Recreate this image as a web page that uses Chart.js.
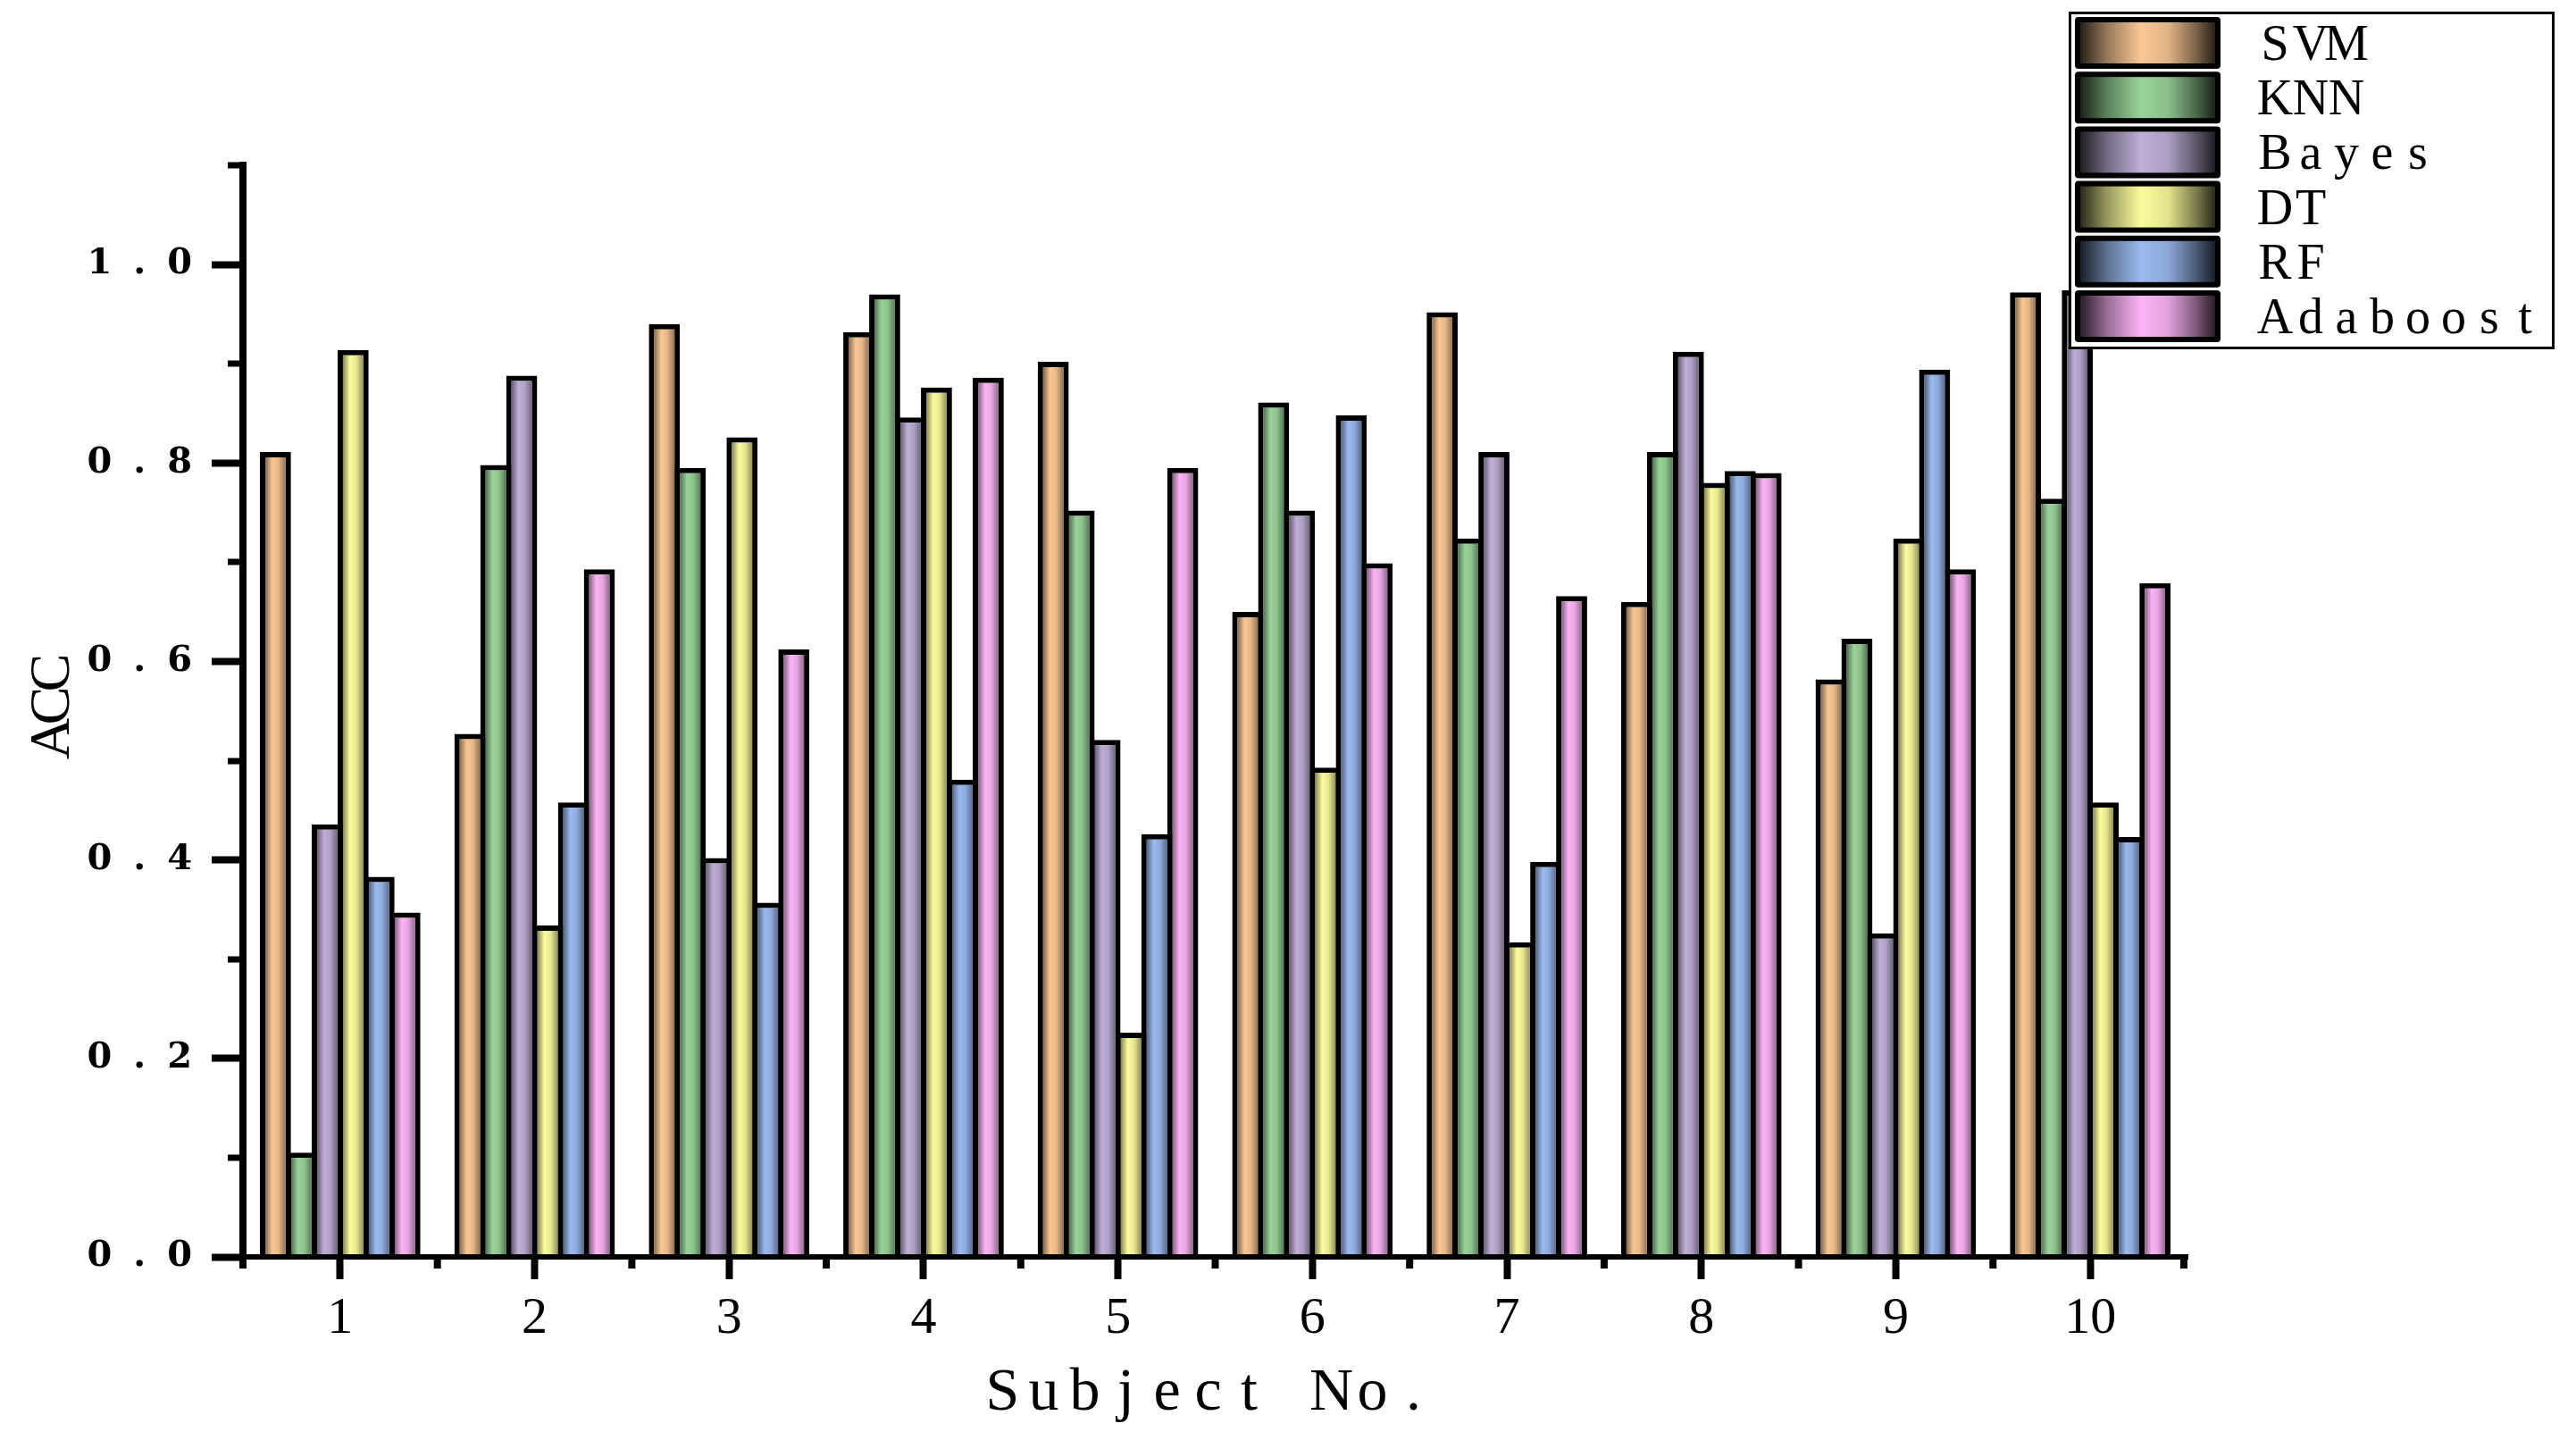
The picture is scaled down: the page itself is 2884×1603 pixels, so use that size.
<!DOCTYPE html>
<html>
<head>
<meta charset="utf-8">
<title>ACC by subject</title>
<script src="https://cdn.jsdelivr.net/npm/chart.js@4.4.1/dist/chart.umd.min.js"></script>
<style>
  html, body { margin: 0; padding: 0; background: #fff; }
  #wrap { width: 2884px; height: 1603px; }
</style>
</head>
<body>
<div id="wrap"><canvas id="acc" width="2884" height="1603"></canvas></div>
<script>
// data
var subjects = ['1', '2', '3', '4', '5', '6', '7', '8', '9', '10'];
var svm   = [0.811, 0.527, 0.940, 0.932, 0.902, 0.650, 0.952, 0.660, 0.582, 0.972];
var knn   = [0.105, 0.798, 0.795, 0.970, 0.752, 0.861, 0.724, 0.811, 0.623, 0.764];
var bayes = [0.436, 0.888, 0.402, 0.846, 0.521, 0.752, 0.811, 0.912, 0.326, 0.974];
var dt    = [0.914, 0.334, 0.826, 0.876, 0.226, 0.493, 0.317, 0.780, 0.724, 0.458];
var rf    = [0.383, 0.458, 0.357, 0.481, 0.426, 0.848, 0.398, 0.792, 0.894, 0.423];
var ada   = [0.347, 0.693, 0.612, 0.886, 0.795, 0.699, 0.666, 0.790, 0.693, 0.679];

var seriesNames  = ['SVM', 'KNN', 'Bayes', 'DT', 'RF', 'Adaboost'];
var seriesValues = [svm, knn, bayes, dt, rf, ada];
var seriesColors = ['#F9C794', '#9AD39A', '#BEAFD6', '#FBFB9E', '#9BBAEF', '#FBB4F6'];

var yMin = 0, yMax = 1.1, yStep = 0.1;
var xTitle = 'Subject No.';
var yTitle = 'ACC';

function shade(hex, f) {
  var n = parseInt(hex.slice(1), 16);
  var r = Math.round(((n >> 16) & 255) * f);
  var g = Math.round(((n >> 8) & 255) * f);
  var b = Math.round((n & 255) * f);
  return 'rgb(' + r + ',' + g + ',' + b + ')';
}

// one glyph per fixed cell, like the half-width font of the original
function monoText(ctx, str, x, y, cell) {
  for (var k = 0; k < str.length; k++) {
    ctx.fillText(str[k], x + cell * k + cell / 2, y);
  }
}

// cylinder-like shading of each bar, built from the bar geometry chart.js computed
var barShading = {
  id: 'barShading',
  afterUpdate: function (chart) {
    var ctx = chart.ctx;
    chart.data.datasets.forEach(function (ds, i) {
      var c = seriesColors[i];
      chart.getDatasetMeta(i).data.forEach(function (bar) {
        var x0 = bar.x - bar.width / 2;
        var x1 = bar.x + bar.width / 2;
        var g = ctx.createLinearGradient(x0, 0, x1, 0);
        g.addColorStop(0, shade(c, 0.25));
        g.addColorStop(0.18, shade(c, 0.55));
        g.addColorStop(0.4, c);
        g.addColorStop(0.6, shade(c, 0.92));
        g.addColorStop(0.85, shade(c, 0.55));
        g.addColorStop(1, shade(c, 0.25));
        bar.options = Object.assign({}, bar.options, { backgroundColor: g });
      });
    });
  },
  beforeDraw: function (chart) {
    chart.ctx.letterSpacing = '0px';
  },
  afterDatasetsDraw: function (chart) {
    // y tick labels are drawn after the datasets (ticks.z = 1), with wide spacing
    chart.ctx.letterSpacing = '24px';
  }
};

// minor ticks, axis titles and the boxed legend
var decorations = {
  id: 'decorations',
  afterDraw: function (chart) {
    var ctx = chart.ctx;
    var area = chart.chartArea;
    var xs = chart.scales.x, ys = chart.scales.y;
    ctx.save();
    ctx.letterSpacing = '0px';
    ctx.strokeStyle = '#000';
    ctx.lineCap = 'butt';

    // y minor ticks
    ctx.lineWidth = 7;
    for (var i = 1; i * yStep <= yMax + 1e-9; i += 2) {
      var py = Math.round(ys.getPixelForValue(i * yStep));
      ctx.beginPath();
      ctx.moveTo(area.left - 17, py);
      ctx.lineTo(area.left, py);
      ctx.stroke();
    }
    // x minor ticks at category boundaries
    var step = xs.getPixelForValue(1) - xs.getPixelForValue(0);
    ctx.lineWidth = 8;
    for (var j = 0; j <= subjects.length; j++) {
      var bx = xs.getPixelForValue(0) + (j - 0.5) * step;
      if (j === subjects.length) bx -= 4;
      ctx.beginPath();
      ctx.moveTo(bx, area.bottom);
      ctx.lineTo(bx, area.bottom + 13);
      ctx.stroke();
    }

    // axis titles
    ctx.fillStyle = '#000';
    ctx.textAlign = 'center';
    ctx.textBaseline = 'alphabetic';
    ctx.font = '68px "Liberation Serif"';
    var cx = (area.left + area.right) / 2 - 8;
    monoText(ctx, xTitle, cx - xTitle.length * 46 / 2, 1578, 46);

    ctx.save();
    ctx.translate(77, (area.top + area.bottom) / 2 - 6);
    ctx.rotate(-Math.PI / 2);
    ctx.font = '64px "Liberation Serif"';
    monoText(ctx, yTitle, -yTitle.length * 37 / 2, 0, 37);
    ctx.restore();

    // legend
    var L = 2316, T = 13, W = 544, H = 378;
    ctx.fillStyle = '#fff';
    ctx.fillRect(L, T, W, H);
    ctx.lineWidth = 3;
    ctx.strokeRect(L + 1.5, T + 1.5, W - 3, H - 3);
    seriesNames.forEach(function (name, k) {
      var sx = L + 7, sy = T + 6 + k * 61.2, sw = 163, sh = 58;
      var c = seriesColors[k];
      ctx.fillStyle = '#000';
      ctx.beginPath();
      ctx.roundRect(sx, sy, sw, sh, 4);
      ctx.fill();
      var g = ctx.createLinearGradient(sx + 5, 0, sx + sw - 5, 0);
      g.addColorStop(0, shade(c, 0.15));
      g.addColorStop(0.2, shade(c, 0.6));
      g.addColorStop(0.45, c);
      g.addColorStop(0.65, shade(c, 0.9));
      g.addColorStop(0.85, shade(c, 0.5));
      g.addColorStop(1, shade(c, 0.15));
      ctx.fillStyle = g;
      ctx.fillRect(sx + 6, sy + 6, sw - 12, sh - 12);
      ctx.fillStyle = '#000';
      ctx.font = '56px "Liberation Serif"';
      ctx.textAlign = 'center';
      monoText(ctx, name, L + 211, sy + sh / 2 + 19, 40);
    });
    ctx.restore();
  }
};

var datasets = [];
for (var s = 0; s < seriesNames.length; s++) {
  datasets.push({
    label: seriesNames[s],
    data: seriesValues[s],
    backgroundColor: seriesColors[s],
    borderColor: '#000',
    borderWidth: 6,
    borderSkipped: 'start',
    categoryPercentage: 0.799,
    barPercentage: 1.2
  });
}

var ctx = document.getElementById('acc');
var accChart = new Chart(ctx, {
  type: 'bar',
  data: {
    labels: subjects,
    datasets: datasets
  },
  options: {
    responsive: false,
    animation: false,
    devicePixelRatio: 1,
    layout: {
      padding: { left: 0, right: 435, top: 185, bottom: 0 }
    },
    plugins: {
      legend: { display: false },
      tooltip: { enabled: false }
    },
    scales: {
      x: {
        offset: true,
        afterFit: function (scale) { scale.height = 196; },
        grid: {
          offset: false,
          drawOnChartArea: false,
          tickLength: 25,
          tickWidth: 8,
          tickColor: '#000',
          z: 1
        },
        border: { display: true, color: '#000', width: 6, z: 1 },
        ticks: {
          color: '#000',
          padding: 10,
          maxRotation: 0,
          font: { family: '"Liberation Serif"', size: 58 }
        }
      },
      y: {
        min: yMin,
        max: yMax,
        afterFit: function (scale) { scale.width = 272; },
        grid: {
          drawOnChartArea: false,
          tickLength: 35,
          tickWidth: 8,
          tickColor: function (c) {
            return c.index % 2 === 0 ? '#000' : 'rgba(0,0,0,0)';
          },
          z: 1
        },
        border: { display: true, color: '#000', width: 8, z: 1 },
        ticks: {
          stepSize: yStep,
          z: 1,
          color: '#000',
          padding: -2,
          font: { family: '"DejaVu Serif"', size: 40, weight: 'bold' },
          callback: function (value, index) {
            return index % 2 === 0 ? Number(value).toFixed(1) : '';
          }
        }
      }
    }
  },
  plugins: [barShading, decorations]
});
</script>
</body>
</html>
